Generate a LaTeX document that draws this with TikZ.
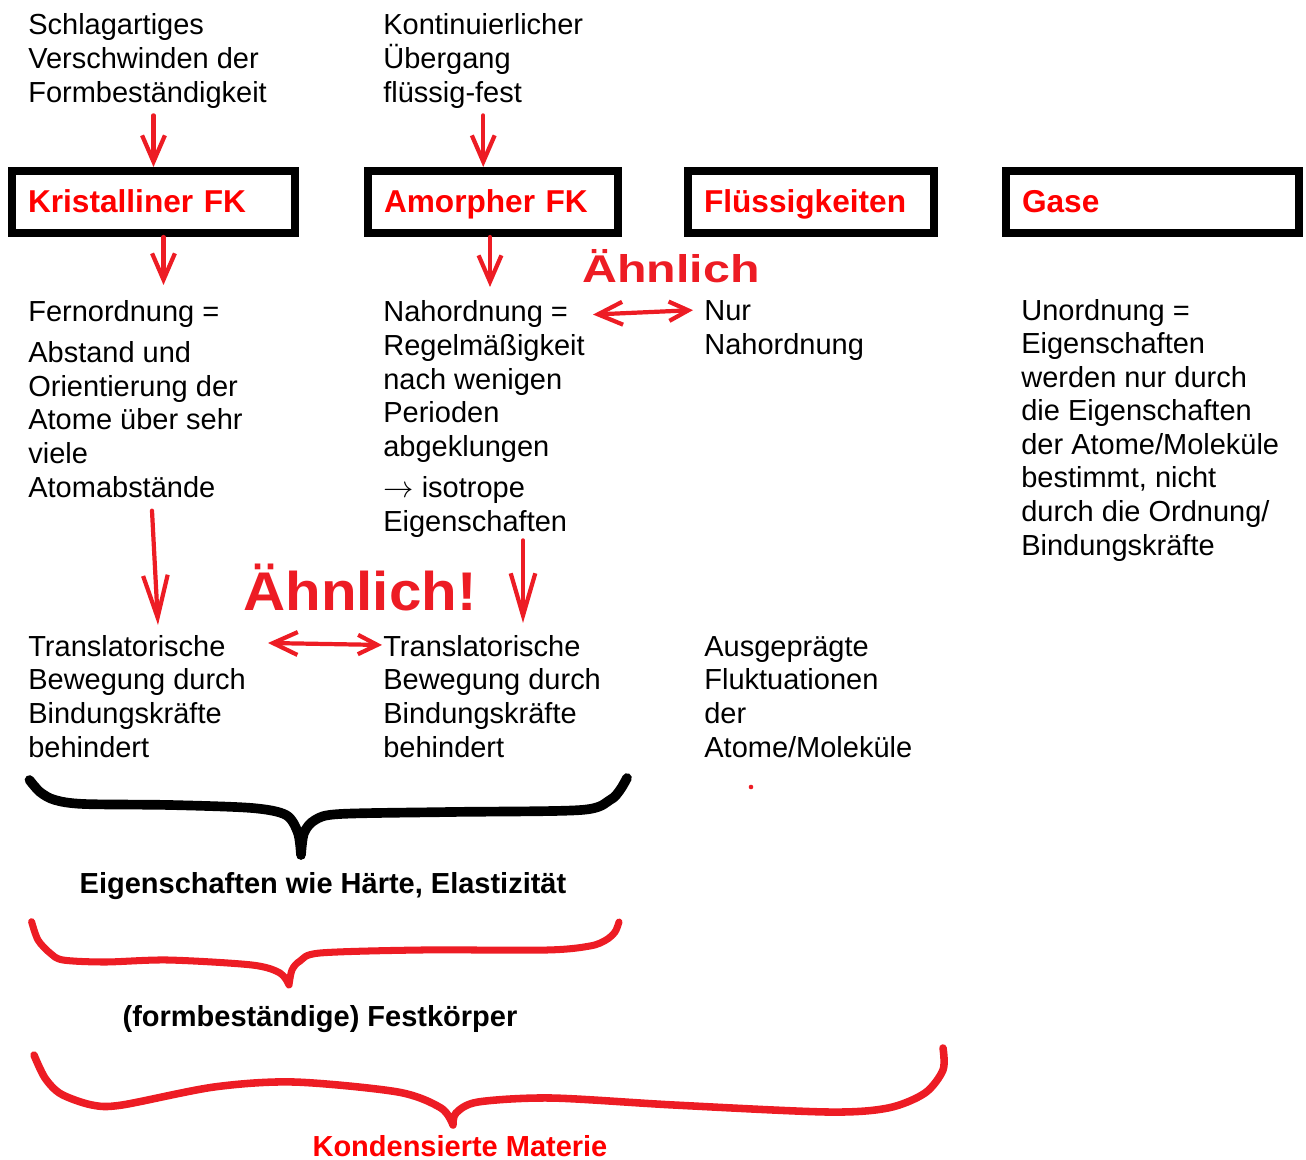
\documentclass[tikz,border=0pt]{standalone}
\usepackage{fontspec}
\usepackage{graphicx}
\setmainfont{Liberation Sans}
\usetikzlibrary{arrows.meta}
\definecolor{pen}{HTML}{ED1C24}

\begin{document}
\begin{tikzpicture}[x=0.02cm, y=-0.02cm,
txt/.style={anchor=base west, align=left, inner sep=0pt,
                font=\fontsize{16.5}{19.1}\selectfont},
lbl/.style={anchor=base, inner sep=0pt,
                font=\fontsize{16.5}{19.1}\selectfont\bfseries},
fk/.style={draw, line width=0.16cm, inner xsep=0.32cm, inner ysep=0pt,
                minimum height=1.24cm, text height=16pt, text depth=3.8pt,
                align=left, text=red, font=\fontsize{18}{21}\selectfont\bfseries},
hand/.style={pen, line width=2.4pt, line cap=round, line join=round,
                -{Straight Barb[length=15pt,width=13pt]}},
handlong/.style={hand, -{Straight Barb[length=24pt,width=14pt]}},
handboth/.style={hand, {Straight Barb[length=14pt,width=13pt]}-{Straight Barb[length=11pt,width=11pt]}},
brace/.style={line width=5.5pt, line cap=round, line join=round},
note/.style={anchor=base west, inner sep=0pt, text=pen}]
    \useasboundingbox (0,0) rectangle (1306,1160);

    \node[txt] (t1) at (28,102) {Schlagartiges\\Verschwinden der\\Formbeständigkeit};
    \node[txt] (t2) at (383,102) {Kontinuierlicher\\Übergang\\flüssig-fest};

    \node[fk, text width=5.02cm] (kbox) at (153.5,202) {Kristalliner FK};
    \node[fk, text width=4.36cm] (abox) at (493,202) {Amorpher FK};
    \node[fk, text width=4.28cm] (lbox) at (811,202) {Flüssigkeiten};
    \node[fk, text width=5.22cm] (gbox) at (1152.5,202) {Gase};

    \node[txt] (m1) at (28,497) {Fernordnung =\\[4.4pt]Abstand und\\Orientierung der\\Atome über sehr\\viele\\Atomabstände};
    \node[txt] (m2) at (383,531) {Nahordnung =\\Regelmäßigkeit\\nach wenigen\\Perioden\\abgeklungen\\[4.4pt]$\rightarrow$ isotrope\\Eigenschaften};
    \node[txt] (m3) at (704,354) {Nur\\Nahordnung};
    \node[txt] (m4) at (1021,555) {Unordnung =\\Eigenschaften\\werden nur durch\\die Eigenschaften\\der Atome/Moleküle\\bestimmt, nicht\\durch die Ordnung/\\Bindungskräfte};

    \node[txt] (b1) at (28,757) {Translatorische\\Bewegung durch\\Bindungskräfte\\behindert};
    \node[txt] (b2) at (383,757) {Translatorische\\Bewegung durch\\Bindungskräfte\\behindert};
    \node[txt] (b3) at (704,757) {Ausgeprägte\\Fluktuationen\\der\\Atome/Moleküle};

    \node[lbl] (e1) at (323,893) {Eigenschaften wie Härte, Elastizität};
    \node[lbl] (f1) at (320,1026) {(formbeständige) Festkörper};
    \node[lbl, text=red] (k1) at (460,1156) {Kondensierte Materie};

    \node[note, font=\fontsize{22}{24}\selectfont\bfseries] (sim1) at (582,282) {\scalebox{1.25}[1]{Ähnlich}};
    \node[note, font=\fontsize{31}{33}\selectfont\bfseries] (sim2) at (243,610) {\scalebox{1.07}[1]{Ähnlich!}};

    \draw[hand, shorten <=0.14cm] (t1.south -| kbox.north) -- (kbox.north);
    \draw[hand, shorten <=0.14cm] (t2.south) -- (t2.south |- abox.north);
    \draw[hand] ([xshift=0.2cm]kbox.south) -- ++(0,48);
    \draw[hand] ([xshift=-0.06cm]abox.south) -- ++(0,50);
    \draw[handlong] ([shift={(124,13)}]m1.south west) -- ([shift={(130,-10)}]b1.north west);
    \draw[handlong] ([shift={(140,3)}]m2.south west) -- ([shift={(140,-12)}]b2.north west);
    \draw[handboth] ([shift={(210,14)}]m2.north west) -- ([shift={(-11,10)}]m3.north west);
    \draw[handboth] ([shift={(240,8)}]b1.north west) -- ([shift={(-1,10)}]b2.north west);

    \fill[pen] (751,787) circle (1.3pt);

    \draw[brace] plot[smooth] coordinates {(29.5,780) (40,792) (55,800) (84,804) (170,805) (252,808) (286,815) (298,833) (301,855)}
        plot[smooth] coordinates {(301,855) (304,833) (315,820) (340,814) (450,812) (581,810) (610,800) (620,790) (627,778)};
    \draw[brace, pen, line width=4pt] plot[smooth] coordinates {(31.6,921.7) (38,940) (50,953) (63,960) (105,962) (168,960) (252,965) (280,973) (289,985)}
        plot[smooth] coordinates {(289,985) (292,970) (300,961) (320,953) (421,950) (547,950) (590,946) (606,940) (615,932) (619,922)};
    \draw[brace, pen, line width=4.3pt] plot[smooth] coordinates {(34,1055) (45,1078) (61,1094) (92,1105) (122,1105) (214,1087) (294,1082) (398,1092) (441,1108) (453,1125)}
        plot[smooth] coordinates {(453,1125) (456,1113) (478,1102) (551,1098) (674,1105) (827,1112) (888,1108) (925,1093) (943,1070) (943,1048)};
\end{tikzpicture}
\end{document}
